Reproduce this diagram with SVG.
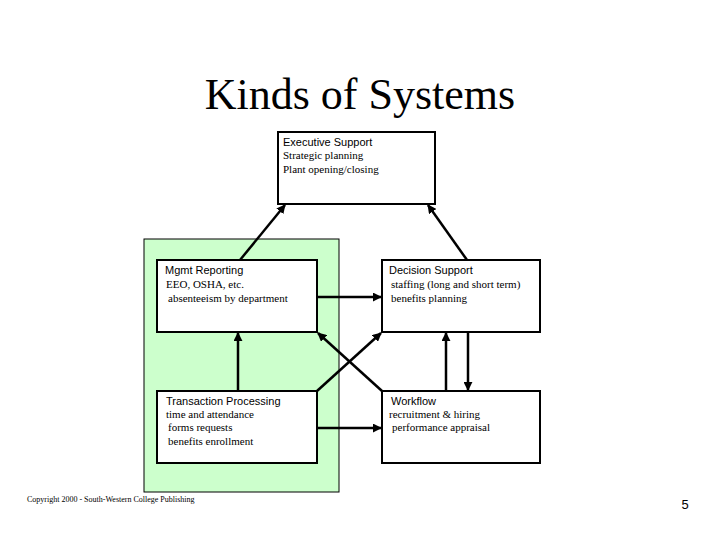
<svg xmlns="http://www.w3.org/2000/svg" width="720" height="540" viewBox="0 0 720 540">
<style>
.box{fill:#fff;stroke:#000;stroke-width:2}
.h{font-family:"Liberation Sans",Arial,sans-serif;font-size:11px;fill:#000}
.t{font-family:"Liberation Serif","Times New Roman",serif;font-size:11px;fill:#000}
.c{stroke:#000;stroke-width:2.5;fill:none;marker-end:url(#ah)}
</style>
<defs>
<marker id="ah" viewBox="0 0 10 10" refX="9" refY="5" markerWidth="3.6" markerHeight="3.6" orient="auto" markerUnits="strokeWidth">
<path d="M0,0 L10,5 L0,10 z" fill="#000"/>
</marker>
</defs>
<rect width="720" height="540" fill="#fff"/>
<text x="360" y="109" text-anchor="middle" font-family="Liberation Serif,'Times New Roman',serif" font-size="44">Kinds of Systems</text>
<rect x="144" y="239" width="195" height="253" fill="#ccffcc" stroke="#000" stroke-width="1"/>
<g id="connectors">
<line class="c" x1="240" y1="260" x2="285" y2="205"/>
<line class="c" x1="467" y1="260" x2="428" y2="205"/>
<line class="c" x1="317" y1="297" x2="381" y2="297"/>
<line class="c" x1="317" y1="428" x2="381" y2="428"/>
<line class="c" x1="238" y1="391" x2="238" y2="333"/>
<line class="c" x1="317" y1="391" x2="381" y2="333"/>
<line class="c" x1="382" y1="391" x2="318" y2="333"/>
<line class="c" x1="446" y1="391" x2="446" y2="333"/>
<line class="c" x1="468" y1="332" x2="468" y2="390"/>
</g>
<g id="executive">
<rect class="box" x="278" y="132" width="157" height="72"/>
<text class="h" x="283" y="146">Executive Support</text>
<text class="t" x="283" y="159">Strategic planning</text>
<text class="t" x="283" y="173">Plant opening/closing</text>
</g>
<g id="mgmt">
<rect class="box" x="157" y="260" width="160" height="72"/>
<text class="h" x="165" y="274">Mgmt Reporting</text>
<text class="t" x="166" y="288">EEO, OSHA, etc.</text>
<text class="t" x="168" y="302">absenteeism by department</text>
</g>
<g id="decision">
<rect class="box" x="382" y="260" width="158" height="72"/>
<text class="h" x="389" y="274">Decision Support</text>
<text class="t" x="391" y="288">staffing (long and short term)</text>
<text class="t" x="391" y="302">benefits planning</text>
</g>
<g id="transaction">
<rect class="box" x="157" y="391" width="160" height="72"/>
<text class="h" x="166" y="405">Transaction Processing</text>
<text class="t" x="166" y="418">time and attendance</text>
<text class="t" x="168" y="431">forms requests</text>
<text class="t" x="168" y="445">benefits enrollment</text>
</g>
<g id="workflow">
<rect class="box" x="382" y="391" width="158" height="72"/>
<text class="h" x="391" y="405">Workflow</text>
<text class="t" x="389" y="418">recruitment &amp; hiring</text>
<text class="t" x="392" y="431">performance appraisal</text>
</g>
<text x="27" y="502" font-family="Liberation Serif,'Times New Roman',serif" font-size="8">Copyright 2000 - South-Western College Publishing</text>
<text x="685" y="509" text-anchor="middle" font-family="Liberation Sans,Arial,sans-serif" font-size="13">5</text>
</svg>
